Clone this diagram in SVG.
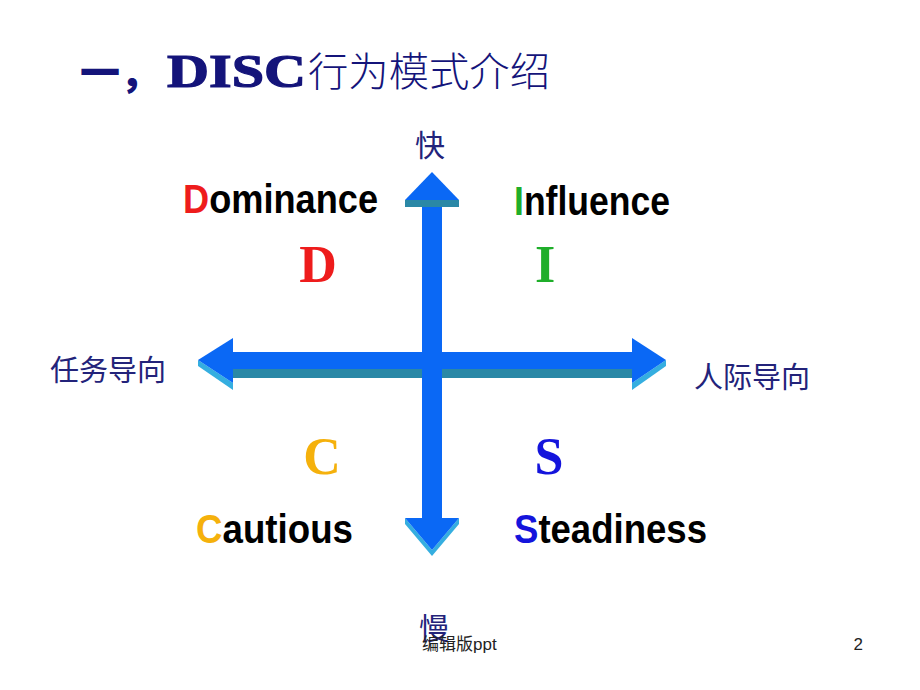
<svg xmlns="http://www.w3.org/2000/svg" width="920" height="690" viewBox="0 0 920 690">
<style>
.cjk{font-family:"Noto Sans CJK SC","Noto Sans",sans-serif;fill:#23237a}
.lbl{font-family:"Liberation Sans",Arial,sans-serif;font-weight:bold;font-size:40px;fill:#000}
.big{font-family:"Liberation Serif","Times New Roman",serif;font-weight:bold;font-size:52px;text-anchor:middle}
.blue{fill:#0a68f5}
.teal{fill:#2a88a6}
.cyan{fill:#35aee0}
.foot{font-family:"Liberation Sans","Noto Sans CJK SC",sans-serif;font-size:17px;fill:#222}
</style>
<rect width="920" height="690" fill="#fff"/>
<g id="title">
<text x="80" y="87" style="font-family:'Noto Sans CJK SC',sans-serif;font-weight:900;font-size:40px;fill:#14147a">一，</text>
<text x="167" y="87" textLength="139" lengthAdjust="spacingAndGlyphs" style="font-family:'Liberation Serif',serif;font-weight:bold;font-size:47px;fill:#14147a;stroke:#14147a;stroke-width:1.2">DISC</text>
<text x="308" y="86" textLength="242" lengthAdjust="spacingAndGlyphs" class="cjk" style="font-size:40px;font-weight:300;fill:#14147a">行为模式介绍</text>
</g>
<g id="connectors">
<g id="h-arrow">
<rect class="blue" x="232" y="352" width="401" height="17"/>
<rect class="teal" x="232" y="369" width="401" height="9"/>
<polygon class="cyan" points="198,360 233,383 233,390 198,366"/>
<polygon class="blue" points="198,360 233,338 233,383"/>
<polygon class="cyan" points="666,360 632,383 632,390 666,366"/>
<polygon class="blue" points="666,360 632,338 632,383"/>
</g>
<g id="v-arrow">
<rect class="blue" x="422" y="200" width="20" height="319"/>
<rect class="teal" x="405" y="200" width="54" height="7"/>
<polygon class="blue" points="432,172 459,200 405,200"/>
<polygon class="cyan" points="405,518 432,550 459,518 459,524 432,556 405,524"/>
<polygon class="blue" points="405,518 459,518 432,550"/>
</g>
</g>
<g id="axis-labels">
<text id="fast" x="430" y="156" text-anchor="middle" class="cjk" style="font-size:30px">快</text>
<text id="slow" x="434" y="639" text-anchor="middle" class="cjk" style="font-size:30px">慢</text>
<text id="task" x="50" y="381" class="cjk" style="font-size:29px">任务导向</text>
<text id="people" x="694" y="388" class="cjk" style="font-size:29px">人际导向</text>
</g>
<g id="node-D">
<text x="183" y="213" class="lbl" textLength="195" lengthAdjust="spacingAndGlyphs"><tspan fill="#ee1c1c">D</tspan>ominance</text>
<text x="318" y="282" class="big" fill="#ee1c1c">D</text>
</g>
<g id="node-I">
<text x="514" y="215" class="lbl" textLength="156" lengthAdjust="spacingAndGlyphs"><tspan fill="#1fae2a">I</tspan>nfluence</text>
<text x="545" y="282" class="big" fill="#1fae2a">I</text>
</g>
<g id="node-C">
<text x="322" y="474" class="big" fill="#f5b10c">C</text>
<text x="196" y="543" class="lbl" textLength="157" lengthAdjust="spacingAndGlyphs"><tspan fill="#f5b10c">C</tspan>autious</text>
</g>
<g id="node-S">
<text x="549" y="474" class="big" fill="#1414dc">S</text>
<text x="514" y="543" class="lbl" textLength="193" lengthAdjust="spacingAndGlyphs"><tspan fill="#1414dc">S</tspan>teadiness</text>
</g>
<g id="footer">
<text x="422" y="650" class="foot">编辑版ppt</text>
<text x="863" y="650" class="foot" text-anchor="end">2</text>
</g>
</svg>
